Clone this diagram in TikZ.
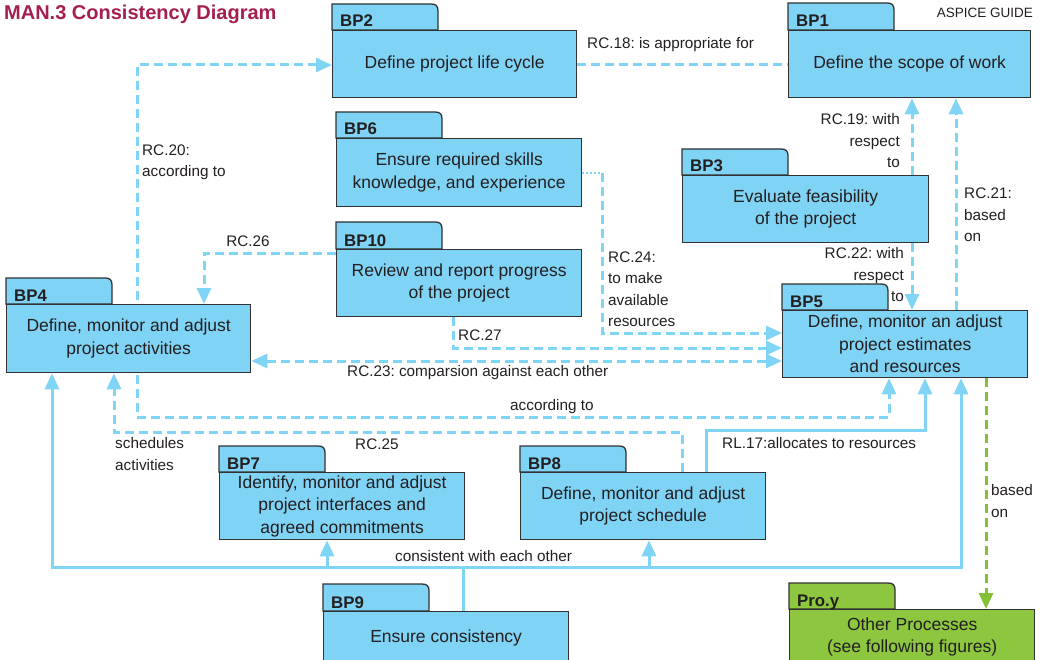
\documentclass[tikz,border=0pt]{standalone}
\usepackage{fontspec}
\setmainfont{Liberation Sans}
\usetikzlibrary{arrows.meta}
\frenchspacing

\definecolor{pkgblue}{RGB}{127,211,244}
\definecolor{linkblue}{RGB}{128,212,245}
\definecolor{edgegray}{RGB}{50,50,50}
\definecolor{ink}{RGB}{35,31,32}
\definecolor{titlered}{RGB}{165,30,80}
\definecolor{procgreen}{RGB}{141,198,63}
\definecolor{greenlink}{RGB}{132,192,52}

\pgfdeclarelayer{background}
\pgfsetlayers{background,main}

% Package shape: tab with a rounded top-right corner plus the body box.
% #1 name, #2 left x, #3 tab top y, #4 body top y, #5 body bottom y,
% #6 right x, #7 tab label, #8 body text
\newcommand{\pkg}[8]{%
  \filldraw[pkgtab] (#2,#4) -- (#2,#3) -- ({#2+99},#3)
    .. controls ({#2+104},#3) and ({#2+106},{#3+2}) .. ({#2+106},{#3+7})
    -- ({#2+106},#4) -- cycle;
  \node[pkgbody,anchor=north west,minimum width={#6-#2},minimum height={#5-#4}]
    (#1) at (#2,#4) {#8};
  \node[pkglabel,anchor=base west] (#1-tag) at ({#2+8},{#4-3}) {#7};
}

\begin{document}
\begin{tikzpicture}[x=1pt,y=-1pt,
  pkgcolor/.style={fill=pkgblue},
  pkgtab/.style={draw=edgegray,line width=1.3pt,pkgcolor},
  pkgbody/.style={draw=edgegray,line width=1.3pt,pkgcolor,inner sep=0pt,
    align=center,text=ink,font=\fontsize{17.5}{22.5}\selectfont},
  pkglabel/.style={inner sep=0pt,text=ink,font=\fontsize{16.8}{20}\selectfont\bfseries},
  lbl/.style={inner sep=0pt,text=ink,font=\fontsize{15.3}{21.5}\selectfont},
  link/.style={draw=linkblue,line width=3pt},
  dlink/.style={link,dash pattern=on 9pt off 5pt},
  dotlink/.style={link,line width=2.4pt,dash pattern=on 2pt off 2pt},
  glink/.style={draw=greenlink,line width=3pt,dash pattern=on 9pt off 5pt},
  arr/.style={-{Triangle[length=16pt,width=14pt]}},
  arrboth/.style={{Triangle[length=16pt,width=14pt]}-{Triangle[length=16pt,width=14pt]}},
]
\useasboundingbox (0,0) rectangle (1040,660);
\clip (0,0) rectangle (1040,660);

% Heading
\node[inner sep=0pt,anchor=west,text=titlered,font=\fontsize{20}{24}\selectfont\bfseries]
  (title) at (4,14) {MAN.3 Consistency Diagram};
\node[inner sep=0pt,anchor=east,text=ink,font=\fontsize{13.5}{16}\selectfont]
  (guide) at (1033,13) {ASPICE GUIDE};

% Base practices
\pkg{bp2}{332}{4}{30}{97}{576}{BP2}{Define project life cycle}
\pkg{bp1}{788}{3}{30}{97}{1030}{BP1}{Define the scope of work}
\pkg{bp6}{336}{112}{138}{206}{581}{BP6}{Ensure required skills\\knowledge, and experience}
\pkg{bp10}{336}{222}{249}{316}{581}{BP10}{Review and report progress\\of the project}
\pkg{bp3}{682}{149}{175}{242}{928}{BP3}{Evaluate feasibility\\of the project}
\pkg{bp5}{782}{284}{310}{377}{1027}{BP5}{Define, monitor an adjust\\project estimates\\and resources}
\pkg{bp4}{6}{278}{304}{372}{250}{BP4}{Define, monitor and adjust\\project activities}
\pkg{bp7}{219}{446}{472}{539}{464}{BP7}{Identify, monitor and adjust\\project interfaces and\\agreed commitments}
\pkg{bp8}{520}{446}{472}{539}{765}{BP8}{Define, monitor and adjust\\project schedule}
\pkg{bp9}{323}{584}{611}{663}{568}{BP9}{Ensure consistency}
\begin{scope}[pkgcolor/.style={fill=procgreen}]
\pkg{proy}{789}{583}{609}{664}{1034}{Pro.y}{Other Processes\\(see following figures)}
\end{scope}

% Connectors
\begin{pgfonlayer}{background}
  % RC.18
  \draw[dlink] (bp2.east) -- (bp1.west);
  % RC.20
  \coordinate (k20) at (137,417);
  \draw[dlink,arrboth] (bp2.west |- 0,65) -| (k20) -| (bp5.south -| 889,0);
  % RC.26
  \draw[dlink,arr] (bp10.west |- 0,253) -| (bp4.north -| 204,0);
  % RC.23
  \draw[dlink,arrboth] (bp4.east |- 0,361) -- (bp5.west |- 0,361);
  % RC.27
  \draw[dlink,arr] (bp10.south -| 453,0) |- (bp5.west |- 0,348);
  % RC.24
  \coordinate (k24) at (602,173);
  \draw[dotlink] (bp6.east |- k24) -- (k24);
  \draw[dlink,arr] (k24) |- (bp5.west |- 0,333);
  % RC.19, RC.22, RC.21
  \draw[dlink,arr] (bp3.north -| 912,0) -- (bp1.south -| 912,0);
  \draw[dlink,arr] (bp3.south -| 912,0) -- (bp5.north -| 912,0);
  \draw[dlink,arr] (bp5.north -| 956,0) -- (bp1.south -| 956,0);
  % RC.25
  \coordinate (k25) at (114,432);
  \draw[dlink,arr] (bp8.north -| 682,0) |- (k25) -- (bp4.south -| k25);
  % RL.17
  \coordinate (k17) at (925,430);
  \draw[link,arr] (bp8.north -| 706,0) |- (k17) -- (bp5.south -| k17);
  % consistency bus
  \coordinate (kl) at (52,567);
  \coordinate (kr) at (961,567);
  \draw[link,arrboth] (bp4.south -| kl) -- (kl) -- (kr) -- (bp5.south -| kr);
  \draw[link,arr] (kl -| 327,0) -- (bp7.south -| 327,0);
  \draw[link,arr] (kl -| 649,0) -- (bp8.south -| 649,0);
  \draw[link] (bp9.north -| 463,0) -- (kl -| 463,0);
  % link to other processes
  \draw[glink,arr] (bp5.south -| 986,0) -- (proy.north -| 986,0);
\end{pgfonlayer}

% Connector labels
\node[lbl,anchor=west] (t18) at (587,45) {RC.18: is appropriate for};
\node[lbl,anchor=west,align=left] (t20) at (142,162) {RC.20:\\according to};
\node[lbl] (t26) at (248,241) {RC.26};
\node[lbl,anchor=west,align=left] (t24) at (608,289) {RC.24:\\to make\\available\\resources};
\node[lbl,anchor=west] (t27) at (458,335) {RC.27};
\node[lbl,anchor=west] (t23) at (347,373) {RC.23: comparsion against each other};
\node[lbl,anchor=west] (t20b) at (510,407) {according to};
\node[lbl,anchor=west] (t25) at (355,444) {RC.25};
\node[lbl,anchor=west,align=left] (tsched) at (115,454) {schedules\\activities};
\node[lbl,anchor=west] (t17) at (722,443) {RL.17:allocates to resources};
\node[lbl,anchor=west] (tcons) at (395,556) {consistent with each other};
\node[lbl,anchor=east,align=right] (t19) at (900,141) {RC.19: with\\respect\\to};
\node[lbl,anchor=east,align=right] (t22) at (904,275) {RC.22: with\\respect\\to};
\node[lbl,anchor=west,align=left] (t21) at (964,215) {RC.21:\\based\\on};
\node[lbl,anchor=west,align=left] (tbased) at (991,501) {based\\on};
\end{tikzpicture}
\end{document}
